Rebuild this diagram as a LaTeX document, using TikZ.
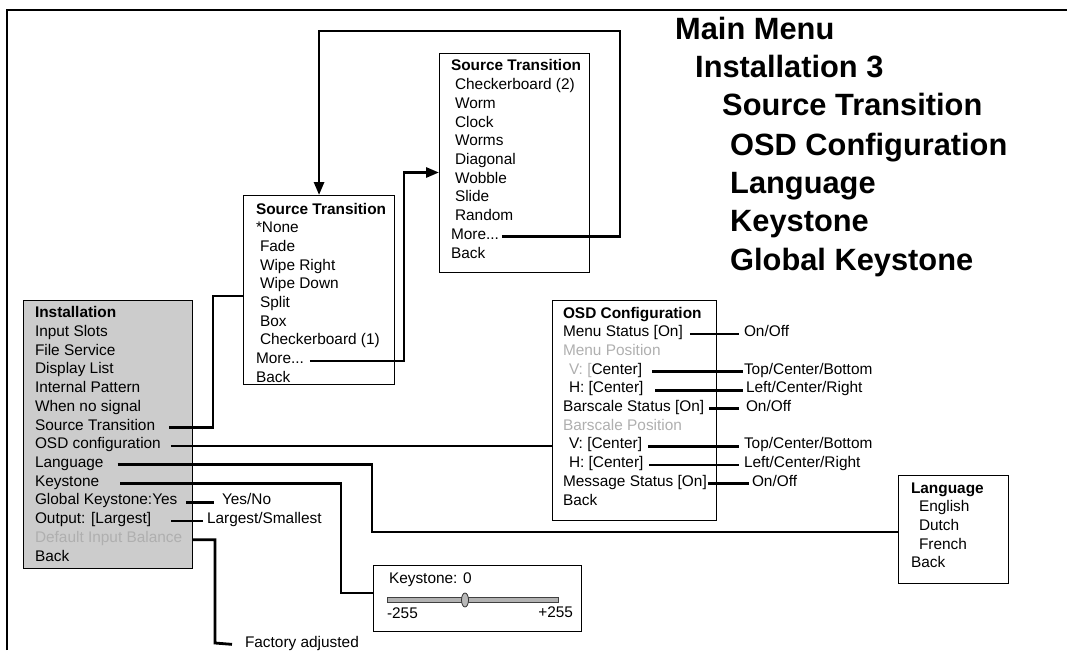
\documentclass[tikz,border=0pt]{standalone}
\usepackage{fontspec}
\setmainfont{Liberation Sans}
\usetikzlibrary{arrows.meta,calc,shapes.geometric}
\definecolor{boxgray}{RGB}{204,204,204}
\definecolor{dimtext}{RGB}{175,175,175}
\begin{document}
\begin{tikzpicture}[x=1pt,y=-1pt,
  txt/.style={anchor=base west, inner sep=0pt, outer sep=0pt, font=\fontsize{15.4}{18}\selectfont},
  btxt/.style={txt, font=\fontsize{15.4}{18}\selectfont\bfseries},
  dim/.style={txt, text=dimtext},
  head/.style={anchor=base west, inner sep=0pt, font=\fontsize{30.8}{36}\selectfont\bfseries},
  conn/.style={line width=2.8pt},
  arr/.style={conn, -{Triangle[length=13pt,width=10pt]}},
  menubox/.style={draw, line width=1.1pt, anchor=north west, inner sep=0pt}]
\useasboundingbox (0,0) rectangle (1067,650);
% frame
\draw[line width=2pt] (7,650) -- (7,10) -- (1067,10);

% headings
\node[head] (h1) at (675,40) {Main Menu};
\node[head] (h2) at (695,78) {Installation 3};
\node[head] (h3) at (722,116) {Source Transition};
\node[head] (h4) at (730,155) {OSD Configuration};
\node[head] (h5) at (730,193) {Language};
\node[head] (h6) at (730,231) {Keystone};
\node[head] (h7) at (730,270) {Global Keystone};

% boxes
\node[menubox, fill=boxgray, minimum width=169pt, minimum height=268pt] (inst) at (23,300) {};
\node[menubox, minimum width=151pt, minimum height=189pt] (st1) at (243,195) {};
\node[menubox, minimum width=150pt, minimum height=219pt] (st2) at (439,53) {};
\node[menubox, minimum width=164pt, minimum height=220pt] (osd) at (552,300) {};
\node[menubox, minimum width=110pt, minimum height=108pt] (lang) at (898,475) {};
\node[menubox, minimum width=208pt, minimum height=66pt] (ks) at (373,565) {};

% Installation menu
\node[btxt] (i0) at (35,317.7) {Installation};
\node[txt] (i1) at (35,336.4) {Input Slots};
\node[txt] (i2) at (35,355.1) {File Service};
\node[txt] (i3) at (35,373.9) {Display List};
\node[txt] (i4) at (35,392.6) {Internal Pattern};
\node[txt] (i5) at (35,411.3) {When no signal};
\node[txt] (i6) at (35,430.0) {Source Transition};
\node[txt] (i7) at (35,448.7) {OSD configuration};
\node[txt] (i8) at (35,467.5) {Language};
\node[txt] (i9) at (35,486.2) {Keystone};
\node[txt] (i10) at (35,504.9) {Global Keystone:Yes};
\node[txt] (i11) at (35,523.6) {Output: [Largest]};
\node[dim] (i12) at (35,542.3) {Default Input Balance};
\node[txt] (i13) at (35,561.1) {Back};

% Source Transition 1
\node[btxt] (a0) at (256,214) {Source Transition};
\node[txt] (a1) at (256,232.7) {*None};
\node[txt] (a2) at (260,251.4) {Fade};
\node[txt] (a3) at (260,270.1) {Wipe Right};
\node[txt] (a4) at (260,288.8) {Wipe Down};
\node[txt] (a5) at (260,307.5) {Split};
\node[txt] (a6) at (260,326.2) {Box};
\node[txt] (a7) at (260,344.9) {Checkerboard (1)};
\node[txt] (a8) at (256,363.6) {More...};
\node[txt] (a9) at (256,382.3) {Back};

% Source Transition 2
\node[btxt] (b0) at (451,71) {Source Transition};
\node[txt] (b1) at (455,89.7) {Checkerboard (2)};
\node[txt] (b2) at (455,108.4) {Worm};
\node[txt] (b3) at (455,127.1) {Clock};
\node[txt] (b4) at (455,145.8) {Worms};
\node[txt] (b5) at (455,164.5) {Diagonal};
\node[txt] (b6) at (455,183.2) {Wobble};
\node[txt] (b7) at (455,201.9) {Slide};
\node[txt] (b8) at (455,220.6) {Random};
\node[txt] (b9) at (451,239.3) {More...};
\node[txt] (b10) at (451,258) {Back};

% OSD configuration
\node[btxt] (o0) at (563,318) {OSD Configuration};
\node[txt] (o1) at (563,336.7) {Menu Status [On]};
\node[dim] (o2) at (563,355.4) {Menu Position};
\node[txt] (o3) at (569,374.1) {{\color{dimtext}V: [}Center]};
\node[txt] (o4) at (569,392.8) {H: [Center]};
\node[txt] (o5) at (563,411.5) {Barscale Status [On]};
\node[dim] (o6) at (563,430.2) {Barscale Position};
\node[txt] (o7) at (569,448.9) {V: [Center]};
\node[txt] (o8) at (569,467.6) {H: [Center]};
\node[txt] (o9) at (563,486.3) {Message Status [On]};
\node[txt] (o10) at (563,505) {Back};

% OSD option labels
\node[txt] (p1) at (744,336.7) {On/Off};
\node[txt] (p3) at (744,374.1) {Top/Center/Bottom};
\node[txt] (p4) at (746,392.8) {Left/Center/Right};
\node[txt] (p5) at (746,411.5) {On/Off};
\node[txt] (p7) at (744,448.9) {Top/Center/Bottom};
\node[txt] (p8) at (744,467.6) {Left/Center/Right};
\node[txt] (p9) at (752,486.3) {On/Off};

% Language
\node[btxt] (l0) at (911,493) {Language};
\node[txt] (l1) at (919,511.7) {English};
\node[txt] (l2) at (919,530.4) {Dutch};
\node[txt] (l3) at (919,549.1) {French};
\node[txt] (l4) at (911,567.8) {Back};

% Keystone
\node[txt] (kt) at (389,583) {Keystone: 0};
\node[draw=black!75, fill=gray!60, line width=0.8pt, minimum width=171pt, minimum height=5pt, inner sep=0pt, anchor=west] (bar) at (387,600) {};
\node[ellipse, draw=black!80, fill=gray!55, line width=0.8pt, minimum width=7pt, minimum height=14pt, inner sep=0pt] (knob) at (465,600) {};
\node[txt] (kmin) at (387,618) {-255};
\node[txt, anchor=base east] (kmax) at (573,617) {+255};

% other labels
\node[txt] (yn) at (222,504.9) {Yes/No};
\node[txt] (ls) at (207,523.6) {Largest/Smallest};
\node[txt] (fa) at (245,647) {Factory adjusted};

% turning points
\coordinate (cst) at (213,296);
\coordinate (clg) at (372,532);
\coordinate (ckt) at (341,593);
\coordinate (cfa) at (215,643);
\coordinate (cm1) at (404,172.5);
\coordinate (cm2) at (620,31);

% connectors
\draw[conn] ([xshift=14pt]i6.mid east) -| (cst) -- (st1.west |- cst);
\draw[conn] ([xshift=10pt]i7.mid east) -- (osd.west |- i7.mid east);
\draw[conn] ([xshift=14pt]i8.mid east) -| (clg) -- (lang.west |- clg);
\draw[conn] ([xshift=21pt]i9.mid east) -| (ckt) -- (ks.west |- ckt);
\draw[conn] ([xshift=9pt]i10.mid east) -- ([xshift=-8pt]yn.mid west);
\draw[conn] ([xshift=20pt]i11.mid east) -- ([xshift=-4pt]ls.mid west);
\draw[conn] (inst.east |- i12.mid east) -| (cfa) -- ([xshift=-13pt]fa.mid west);
\draw[arr] ([xshift=6pt]a8.mid east) -| (cm1) -- (st2.west |- cm1);
\draw[arr] ([xshift=3pt]b9.mid east) -| (cm2) -| (st1.north);

\draw[conn] ([xshift=7pt]o1.mid east) -- ([xshift=-5pt]p1.mid west);
\draw[conn] ([xshift=10pt]o3.mid east) -- ([xshift=-1pt]p3.mid west);
\draw[conn] ([xshift=12pt]o4.mid east) -- ([xshift=-3pt]p4.mid west);
\draw[conn] ([xshift=5pt]o5.mid east) -- ([xshift=-7pt]p5.mid west);
\draw[conn] ([xshift=6pt]o7.mid east) -- ([xshift=-5pt]p7.mid west);
\draw[conn] ([xshift=6pt]o8.mid east) -- ([xshift=-5pt]p8.mid west);
\draw[conn] ([xshift=1pt]o9.mid east) -- ([xshift=-3pt]p9.mid west);
\end{tikzpicture}
\end{document}
